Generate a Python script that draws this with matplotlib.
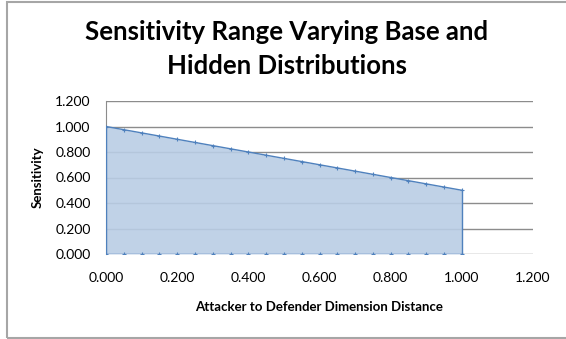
import matplotlib.pyplot as plt
from matplotlib.patches import Rectangle

distance = [0.00, 0.05, 0.10, 0.15, 0.20, 0.25, 0.30, 0.35, 0.40, 0.45, 0.50,
            0.55, 0.60, 0.65, 0.70, 0.75, 0.80, 0.85, 0.90, 0.95, 1.00]
sensitivity = [1.000, 0.975, 0.950, 0.925, 0.900, 0.875, 0.850, 0.825, 0.800, 0.775, 0.750,
               0.725, 0.700, 0.675, 0.650, 0.625, 0.600, 0.575, 0.550, 0.525, 0.500]
lower = [0.0] * len(distance)

ticks = [0.0, 0.2, 0.4, 0.6, 0.8, 1.0, 1.2]

plt.rcParams['font.family'] = ['Lato', 'DejaVu Sans']

fig = plt.figure(figsize=(5.66, 3.39), dpi=100)
ax = fig.add_axes([106 / 566, 1 - 254 / 339, (533 - 106) / 566, (254 - 101) / 339])

line_col = '#4f81bd'
ax.fill_between(distance, lower, sensitivity, color='#b9cde5', alpha=0.9, zorder=2, linewidth=0)
ax.plot(distance, sensitivity, color=line_col, lw=1, marker='+', ms=3, mew=0.8, zorder=3)
ax.plot(distance, lower, color=line_col, lw=1, marker='+', ms=3, mew=0.8, zorder=3)
ax.plot([distance[-1], distance[-1]], [lower[-1], sensitivity[-1]], color=line_col, lw=1, zorder=3)
ax.plot([distance[0], distance[0]], [lower[0], sensitivity[0]], color=line_col, lw=1, zorder=3)

ax.set_xlim(0, 1.2)
ax.set_ylim(0, 1.2)
ax.set_xticks(ticks)
ax.set_yticks(ticks)
ax.set_xticklabels([f'{t:.3f}' for t in ticks])
ax.set_yticklabels([f'{t:.3f}' for t in ticks])
ax.tick_params(length=0, labelsize=10)
ax.tick_params(axis='x', pad=13)
ax.tick_params(axis='y', pad=11)
ax.grid(axis='y', color='#8c8c8c', lw=1, zorder=1)
for s in ['top', 'right', 'bottom']:
    ax.spines[s].set_visible(False)
ax.spines['left'].set_color('#8c8c8c')

ax.set_xlabel('Attacker to Defender Dimension Distance', fontsize=9.5, fontweight='bold', labelpad=12)
ax.set_ylabel('Sensitivity', fontsize=9.5, fontweight='bold', labelpad=8)

fig.text(287 / 566, 1 - 49 / 339, 'Sensitivity Range Varying Base and\nHidden Distributions',
         ha='center', va='center', fontsize=18.5, fontweight='bold', linespacing=1.45)

fig.patches.append(Rectangle((7 / 566, 1.5 / 339), 1.2, 1 - 3.5 / 339, transform=fig.transFigure,
                             fill=False, edgecolor='#a6a6a6', lw=1.5))

fig.savefig('out.png', dpi=100)
